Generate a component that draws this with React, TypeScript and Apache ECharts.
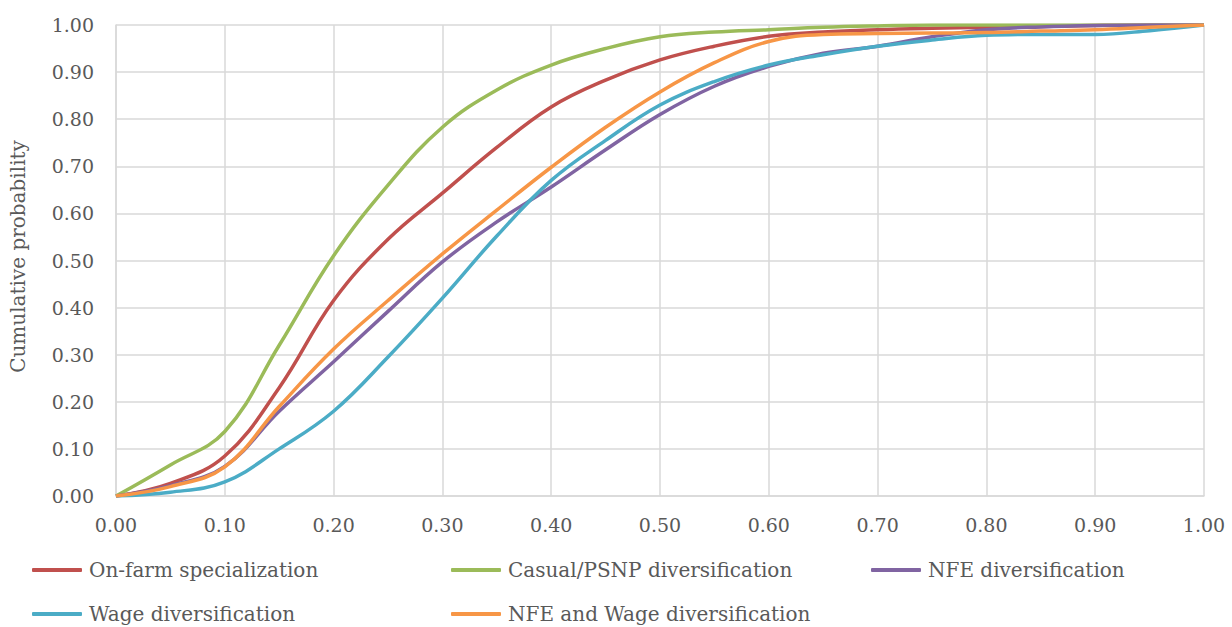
import React, { useEffect, useRef } from "react";
import * as echarts from "echarts";

const xValues = [0, 0.05, 0.1, 0.15, 0.2, 0.25, 0.3, 0.35, 0.4, 0.45, 0.5, 0.55, 0.6, 0.65, 0.7, 0.75, 0.8, 0.85, 0.9, 0.95, 1];

const onFarm = [0, 0.027, 0.085, 0.23, 0.415, 0.545, 0.643, 0.74, 0.826, 0.883, 0.926, 0.955, 0.976, 0.985, 0.99, 0.993, 0.995, 0.997, 0.999, 1, 1];
const casual = [0, 0.066, 0.137, 0.32, 0.51, 0.66, 0.783, 0.862, 0.915, 0.95, 0.975, 0.985, 0.99, 0.995, 0.998, 1, 1, 1, 1, 1, 1];
const nfe = [0, 0.022, 0.063, 0.18, 0.285, 0.392, 0.497, 0.582, 0.656, 0.735, 0.81, 0.87, 0.912, 0.94, 0.955, 0.975, 0.99, 0.996, 0.999, 1, 1];
const wage = [0, 0.008, 0.03, 0.1, 0.18, 0.295, 0.42, 0.552, 0.67, 0.755, 0.83, 0.88, 0.915, 0.937, 0.955, 0.968, 0.978, 0.98, 0.98, 0.988, 1];
const nfeWage = [0, 0.02, 0.062, 0.19, 0.312, 0.415, 0.514, 0.607, 0.698, 0.783, 0.858, 0.92, 0.965, 0.98, 0.982, 0.983, 0.984, 0.987, 0.99, 0.995, 1];

const seriesNames = [
  "On-farm specialization",
  "Casual/PSNP diversification",
  "NFE diversification",
  "Wage diversification",
  "NFE and Wage diversification",
];
const seriesValues = [onFarm, casual, nfe, wage, nfeWage];
const colors = ["#C0504D", "#9BBB59", "#8064A2", "#4BACC6", "#F79646"];

const FONT = "DejaVu Serif";
const TEXT = "#595959";
const GRID = "#d9d9d9";

export default function App() {
  const ref = useRef<HTMLDivElement>(null);
  useEffect(() => {
    document.body.style.margin = "0";
    const chart = echarts.init(ref.current!, null, { renderer: "svg" });
    const legendBase = {
      orient: "vertical",
      top: 558,
      itemGap: 20,
      itemWidth: 50,
      itemHeight: 4,
      icon: "roundRect",
      padding: 0,
      textStyle: { fontFamily: FONT, fontSize: 20, color: TEXT, lineHeight: 24, padding: [0, 0, 0, 2] },
    };
    chart.setOption({
      animation: false,
      color: colors,
      textStyle: { fontFamily: FONT },
      grid: { left: 116, right: 28, top: 25, bottom: 131 },
      legend: [
        { ...legendBase, left: 32, data: [seriesNames[0], seriesNames[3]] },
        { ...legendBase, left: 451, data: [seriesNames[1], seriesNames[4]] },
        { ...legendBase, left: 871, data: [seriesNames[2]] },
      ],
      xAxis: {
        type: "value",
        min: 0,
        max: 1,
        interval: 0.1,
        axisLine: { show: true, lineStyle: { color: GRID, width: 1.5 } },
        axisTick: { show: false },
        splitLine: { show: true, lineStyle: { color: GRID, width: 1.5 } },
        axisLabel: {
          formatter: (v: number) => v.toFixed(2),
          fontFamily: FONT,
          fontSize: 19,
          color: TEXT,
          margin: 19,
        },
      },
      yAxis: {
        type: "value",
        min: 0,
        max: 1,
        interval: 0.1,
        name: "Cumulative probability",
        nameLocation: "middle",
        nameGap: 88,
        nameTextStyle: { fontFamily: FONT, fontSize: 20, color: TEXT, padding: [0, 0, 0, 8] },
        axisLine: { show: true, lineStyle: { color: GRID, width: 1.5 } },
        axisTick: { show: false },
        splitLine: { show: true, lineStyle: { color: GRID, width: 1.5 } },
        axisLabel: {
          formatter: (v: number) => v.toFixed(2),
          fontFamily: FONT,
          fontSize: 19,
          color: TEXT,
          margin: 22,
        },
      },
      series: seriesNames.map((name, i) => ({
        name,
        type: "line",
        smooth: 0.4,
        symbol: "none",
        lineStyle: { width: 3.5, color: colors[i] },
        itemStyle: { color: colors[i] },
        data: xValues.map((x, j) => [x, seriesValues[i][j]]),
      })),
    });
    return () => chart.dispose();
  }, []);
  return <div ref={ref} style={{ width: 1232, height: 627 }} />;
}
